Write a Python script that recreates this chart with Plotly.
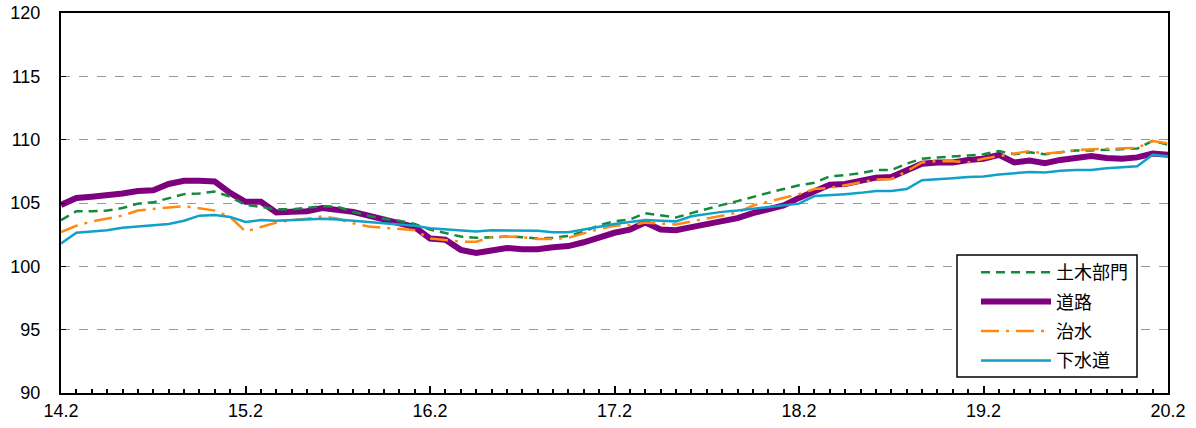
import plotly.graph_objects as go

# monthly index 0..72 from 14.2 to 20.2
months = list(range(73))
tick_pos = [0, 12, 24, 36, 48, 60, 72]
tick_labels = ["14.2", "15.2", "16.2", "17.2", "18.2", "19.2", "20.2"]

doboku = [103.65, 104.35, 104.35, 104.4, 104.6, 104.95, 105.05, 105.35, 105.7, 105.75,
          105.9, 105.5, 104.85, 104.7, 104.5, 104.5, 104.6, 104.75, 104.7, 104.3,
          104.0, 103.75, 103.6, 103.35, 102.9, 102.6, 102.35, 102.25, 102.3, 102.35,
          102.3, 102.2, 102.25, 102.4, 102.75, 103.25, 103.55, 103.7, 104.2, 104.0,
          103.85, 104.2, 104.55, 104.85, 105.15, 105.5, 105.8, 106.1, 106.4, 106.6,
          107.1, 107.2, 107.35, 107.6, 107.6, 108.1, 108.5, 108.6, 108.65, 108.75,
          108.85, 109.1, 108.85, 109.0, 108.85, 109.0, 109.15, 109.15, 109.2, 109.2,
          109.3, 109.9, 109.6]

douro = [104.85, 105.4, 105.5, 105.6, 105.75, 105.95, 106.0, 106.5, 106.75, 106.75,
         106.7, 105.8, 105.1, 105.1, 104.25, 104.3, 104.35, 104.6, 104.5, 104.3,
         104.0, 103.7, 103.45, 103.1, 102.2, 102.1, 101.3, 101.05, 101.25, 101.45,
         101.35, 101.35, 101.5, 101.6, 101.9, 102.3, 102.65, 102.9, 103.45, 102.9,
         102.85, 103.1, 103.3, 103.5, 103.8, 104.2, 104.5, 104.8, 105.4, 105.9,
         106.45, 106.5, 106.7, 107.0, 107.05, 107.6, 108.1, 108.2, 108.2, 108.4,
         108.5, 108.8, 108.2, 108.35, 108.15, 108.4, 108.6, 108.7, 108.55, 108.5,
         108.6, 108.9, 108.8]

chisui = [102.7, 103.2, 103.55, 103.75, 104.0, 104.4, 104.55, 104.65, 104.75, 104.6,
          104.4, 103.9, 102.75, 103.1, 103.45, 103.65, 103.75, 103.95, 103.75, 103.4,
          103.15, 103.05, 102.95, 102.85, 102.2, 102.05, 101.95, 101.95, 102.3, 102.35,
          102.3, 102.15, 102.15, 102.25, 102.6, 102.95, 103.2, 103.25, 103.45, 103.35,
          103.3, 103.55, 103.75, 104.0, 104.25, 104.8, 105.1, 105.4, 105.7, 106.1,
          106.2, 106.4, 106.65, 106.85, 106.9, 107.5, 108.2, 108.3, 108.3, 108.2,
          108.5, 108.7, 108.9, 109.1, 108.9, 109.0, 109.2, 109.25, 109.25, 109.3,
          109.35, 109.9, 109.7]

gesuido = [101.8, 102.65, 102.75, 102.85, 103.05, 103.15, 103.2, 103.35, 103.6, 104.0,
           104.05, 103.9, 103.5, 103.65, 103.6, 103.65, 103.7, 103.75, 103.7, 103.6,
           103.5, 103.45, 103.35, 103.2, 103.0, 102.9, 102.8, 102.75, 102.85, 102.85,
           102.85, 102.8, 102.7, 102.7, 102.9, 103.15, 103.35, 103.5, 103.65, 103.6,
           103.55, 103.95, 104.15, 104.3, 104.4, 104.55, 104.65, 104.85, 104.95, 105.55,
           105.6, 105.7, 105.8, 105.95, 105.95, 106.1, 106.8, 106.85, 106.95, 107.05,
           107.1, 107.25, 107.35, 107.45, 107.4, 107.55, 107.6, 107.6, 107.75, 107.8,
           107.9, 108.8, 108.7]

FONT = "Noto Sans CJK JP"
TICKFONT = "Liberation Sans"

fig = go.Figure()
fig.add_trace(go.Scatter(x=months, y=douro, name="道路", mode="lines", legendgroup="b",
                         line=dict(color="#7f007f", width=6), legendrank=2))
fig.add_trace(go.Scatter(x=months, y=doboku, name="土木部門", mode="lines", legendgroup="a",
                         line=dict(color="#138a3c", width=2.5, dash="9px,6px"), legendrank=1))
fig.add_trace(go.Scatter(x=months, y=chisui, name="治水", mode="lines", legendgroup="c",
                         line=dict(color="#ff8a12", width=2.5, dash="18px,7px,3px,7px"), legendrank=3))
fig.add_trace(go.Scatter(x=months, y=gesuido, name="下水道", mode="lines", legendgroup="d",
                         line=dict(color="#10a0c8", width=2.5), legendrank=4))

# plot area: x 61..1168, y 13..393 (px)
PL, PR, PT, PB = 61, 1168, 13, 393
def px_x(p):
    return (p - PL) / (PR - PL)
def px_y(p):
    return (PB - p) / (PB - PT)

# legend frame
fig.add_shape(type="rect", xref="paper", yref="paper",
              x0=px_x(957), x1=px_x(1137), y0=px_y(377), y1=px_y(255),
              line=dict(color="black", width=1.5), fillcolor="white", layer="above")

fig.update_layout(
    width=1196, height=428,
    margin=dict(l=PL, r=1196 - PR, t=PT, b=428 - PB),
    paper_bgcolor="white", plot_bgcolor="white",
    font=dict(family=FONT, color="black", size=18),
    showlegend=True,
    legend=dict(x=px_x(976), y=px_y(254), xanchor="left", yanchor="top",
                borderwidth=0, bgcolor="rgba(0,0,0,0)",
                font=dict(family=FONT, size=18), tracegroupgap=3,
                itemwidth=70, traceorder="grouped"),
)
fig.update_xaxes(range=[0, 72], tickvals=tick_pos, ticktext=tick_labels,
                 showline=True, mirror=True, linecolor="black", linewidth=2,
                 ticks="inside", ticklen=7, tickcolor="black", tickwidth=1.5,
                 minor=dict(dtick=1, tick0=0, ticks="inside", ticklen=4,
                            tickcolor="black", tickwidth=1.5, showgrid=False),
                 showgrid=False, zeroline=False,
                 tickfont=dict(family=TICKFONT, size=18),
                 automargin=False, ticklabeloverflow="allow")
fig.update_yaxes(range=[90, 120], dtick=5, tick0=90,
                 showline=True, mirror=True, linecolor="black", linewidth=2,
                 ticks="inside", ticklen=5, tickcolor="black",
                 showgrid=True, gridcolor="#999999", griddash="dash", gridwidth=1,
                 zeroline=False, tickfont=dict(family=TICKFONT, size=18),
                 ticklabelstandoff=15,
                 automargin=False, ticklabeloverflow="allow")

fig.write_html("out.html", config={"displayModeBar": False},
               post_script="document.body.style.margin='0';")
